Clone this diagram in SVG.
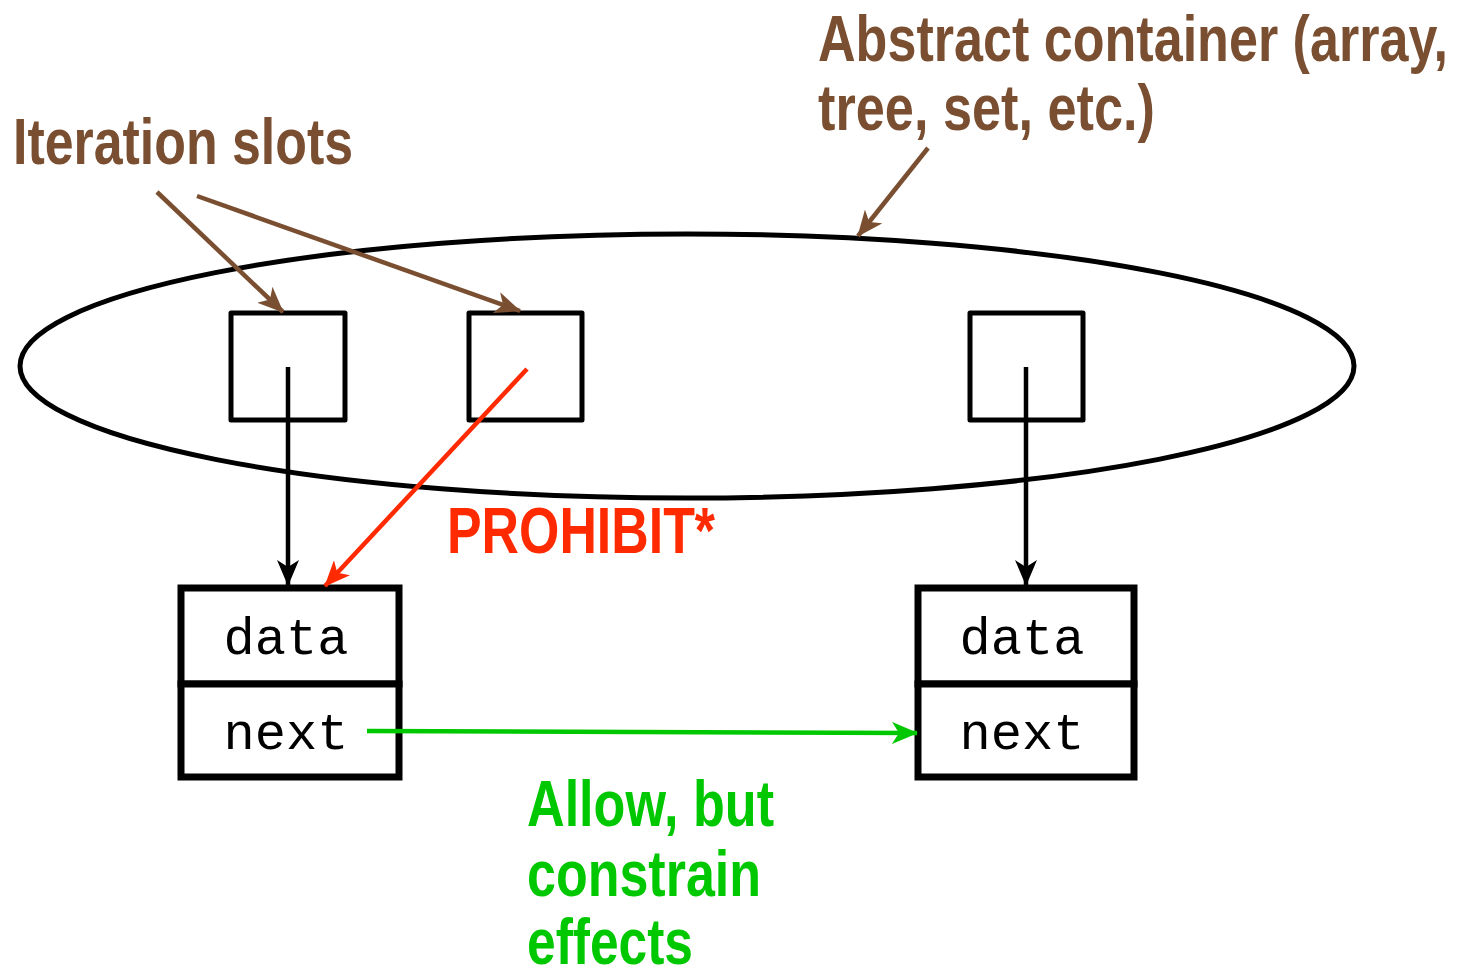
<svg xmlns="http://www.w3.org/2000/svg" width="1462" height="971" viewBox="0 0 1462 971">
<style>
.lbl{font-family:"Liberation Sans Narrow","Liberation Sans",Arial,sans-serif;font-weight:bold;font-size:64px}
.brown{fill:#7a4f31}
.mono{font-family:"Liberation Mono","Courier New",monospace;font-size:52px;fill:#000}
.slot{fill:#fff;stroke:#000;stroke-width:5;stroke-linejoin:round}
.cell{fill:#fff;stroke:#000;stroke-width:7}
</style>
<defs>
<marker id="ab" viewBox="0 0 26 22" refX="25" refY="11" markerWidth="26" markerHeight="22" markerUnits="userSpaceOnUse" orient="auto"><path d="M0,0 L26,11 L0,22 L7,11 Z" fill="#000"/></marker>
<marker id="ar" viewBox="0 0 26 22" refX="25" refY="11" markerWidth="26" markerHeight="22" markerUnits="userSpaceOnUse" orient="auto"><path d="M0,0 L26,11 L0,22 L7,11 Z" fill="#ff2a00"/></marker>
<marker id="ag" viewBox="0 0 26 22" refX="25" refY="11" markerWidth="26" markerHeight="22" markerUnits="userSpaceOnUse" orient="auto"><path d="M0,0 L26,11 L0,22 L7,11 Z" fill="#00c800"/></marker>
<marker id="abr" viewBox="0 0 26 22" refX="25" refY="11" markerWidth="26" markerHeight="22" markerUnits="userSpaceOnUse" orient="auto"><path d="M0,0 L26,11 L0,22 L7,11 Z" fill="#7a4f31"/></marker>
</defs>
<rect width="1462" height="971" fill="#fff"/>
<g id="container"><ellipse cx="687" cy="366" rx="667" ry="132" fill="none" stroke="#000" stroke-width="5"/></g>
<g id="slot1"><rect class="slot" x="231" y="313" width="114" height="107"/></g>
<g id="slot2"><rect class="slot" x="469" y="313" width="113" height="107"/></g>
<g id="slot3"><rect class="slot" x="970" y="313" width="113" height="107"/></g>
<g id="node1">
<rect class="cell" x="181" y="588" width="218" height="96"/>
<rect class="cell" x="181" y="684" width="218" height="93"/>
<text class="mono" x="286" y="654" text-anchor="middle">data</text>
<text class="mono" x="286" y="749" text-anchor="middle">next</text>
</g>
<g id="node2">
<rect class="cell" x="918" y="588" width="216" height="96"/>
<rect class="cell" x="918" y="684" width="216" height="93"/>
<text class="mono" x="1022" y="654" text-anchor="middle">data</text>
<text class="mono" x="1022" y="749" text-anchor="middle">next</text>
</g>
<g id="labels">
<text class="lbl brown" x="13" y="164" textLength="340" lengthAdjust="spacingAndGlyphs">Iteration slots</text>
<text class="lbl brown" x="818" y="61" textLength="630" lengthAdjust="spacingAndGlyphs">Abstract container (array,</text>
<text class="lbl brown" x="818" y="130" textLength="337" lengthAdjust="spacingAndGlyphs">tree, set, etc.)</text>
<text class="lbl" x="447" y="553" fill="#ff2a00" textLength="268" lengthAdjust="spacingAndGlyphs">PROHIBIT*</text>
<text class="lbl" x="527" y="826" fill="#00c800" textLength="247" lengthAdjust="spacingAndGlyphs">Allow, but</text>
<text class="lbl" x="527" y="896" fill="#00c800" textLength="234" lengthAdjust="spacingAndGlyphs">constrain</text>
<text class="lbl" x="527" y="964" fill="#00c800" textLength="166" lengthAdjust="spacingAndGlyphs">effects</text>
</g>
<g id="connectors" fill="none" stroke-width="4.5">
<line x1="288" y1="367" x2="288" y2="585" stroke="#000" marker-end="url(#ab)"/>
<line x1="1026" y1="367" x2="1026" y2="585" stroke="#000" marker-end="url(#ab)"/>
<line x1="527" y1="369" x2="325" y2="586" stroke="#ff2a00" marker-end="url(#ar)"/>
<line x1="367" y1="731" x2="917" y2="733" stroke="#00c800" marker-end="url(#ag)"/>
<line x1="157" y1="192" x2="283" y2="312" stroke="#7a4f31" marker-end="url(#abr)"/>
<line x1="197" y1="196" x2="520" y2="311" stroke="#7a4f31" marker-end="url(#abr)"/>
<line x1="928" y1="148" x2="858" y2="236" stroke="#7a4f31" marker-end="url(#abr)"/>
</g>
</svg>
